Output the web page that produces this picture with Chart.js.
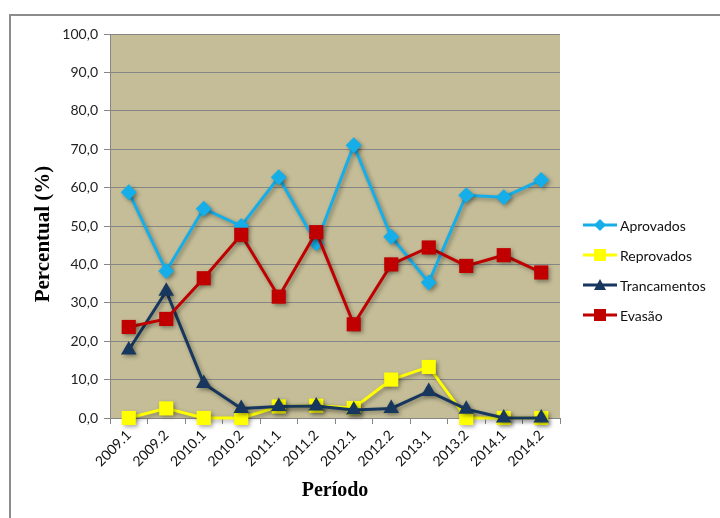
<!DOCTYPE html>
<html>
<head>
    <meta charset="utf-8">
    <title>Percentual por período</title>
    <script src="https://cdn.jsdelivr.net/npm/chart.js@4"></script>
    <style>
        body { margin: 0; background: #fff; }
        #wrap { position: relative; width: 720px; height: 518px; overflow: hidden; }
        #frame { position: absolute; left: 9px; top: 14px; width: 720px; height: 520px;
                 border-top: 2px solid #8c8c8c; border-left: 2px solid #8c8c8c; }
        #myChart { position: absolute; left: 0; top: 0; }
        #legend { position: absolute; left: 583px; top: 210px; font: 14px Lato, sans-serif; color: #111; }
        #legend div { height: 30px; display: flex; align-items: center; }
        #legend svg { margin-right: 3px; }
    </style>
</head>
<body>
<div id="wrap">
    <div id="frame"></div>
    <canvas id="myChart" width="720" height="518"></canvas>
    <div id="legend"></div>
</div>

<script>
    // periods (x axis)
    var periodos = ['2009.1', '2009.2', '2010.1', '2010.2', '2011.1', '2011.2',
                    '2012.1', '2012.2', '2013.1', '2013.2', '2014.1', '2014.2'];

    // values (%)
    var aprovados    = [58.8, 38.3, 54.5, 50.0, 62.7, 45.5, 71.0, 47.2, 35.3, 58.0, 57.5, 62.0];
    var reprovados   = [0.0, 2.5, 0.0, 0.0, 3.0, 3.2, 2.6, 10.0, 13.3, 0.0, 0.0, 0.0];
    var trancamentos = [17.7, 33.0, 9.0, 2.5, 3.0, 3.1, 2.1, 2.5, 6.9, 2.3, 0.0, 0.0];
    var evasao       = [23.7, 25.8, 36.4, 47.7, 31.6, 48.4, 24.4, 40.0, 44.4, 39.6, 42.4, 37.9];

    var series = [
        { label: 'Aprovados', data: aprovados, color: '#16aee8', shape: 'rectRot', radius: 8, order: 3 },
        { label: 'Reprovados', data: reprovados, color: '#ffff00', shape: 'rect', radius: 10, order: 2 },
        { label: 'Trancamentos', data: trancamentos, color: '#17375e', shape: 'triangle', radius: 9, order: 1 },
        { label: 'Evasão', data: evasao, color: '#c00000', shape: 'rect', radius: 10, order: 0 }
    ];

    // tan plot background
    var plotBackground = {
        id: 'plotBackground',
        beforeDraw: function (chart) {
            var a = chart.chartArea, ctx = chart.ctx;
            ctx.save();
            ctx.fillStyle = '#c4bd97';
            ctx.fillRect(a.left, a.top, a.right - a.left, a.bottom - a.top);
            ctx.restore();
        }
    };

    // soft shadow under lines and markers, like the spreadsheet effect
    var markerShadow = {
        id: 'markerShadow',
        beforeDatasetsDraw: function (chart) {
            var ctx = chart.ctx;
            ctx.save();
            ctx.shadowColor = 'rgba(0,0,0,0.35)';
            ctx.shadowBlur = 4;
            ctx.shadowOffsetX = 2;
            ctx.shadowOffsetY = 2;
        },
        afterDatasetsDraw: function (chart) {
            chart.ctx.restore();
        }
    };

    // axis titles
    var axisTitles = {
        id: 'axisTitles',
        afterDraw: function (chart) {
            var ctx = chart.ctx;
            ctx.save();
            ctx.fillStyle = '#000';
            ctx.textAlign = 'center';
            ctx.textBaseline = 'middle';
            ctx.font = 'bold 20px "Liberation Serif", serif';
            ctx.fillText('Período', 335, 491);
            ctx.translate(44, 234);
            ctx.rotate(-Math.PI / 2);
            ctx.font = 'bold 21px "Liberation Serif", serif';
            ctx.fillText('Percentual (%)', 0, 0);
            ctx.restore();
        }
    };

    var datasets = series.map(function (s) {
        return {
            label: s.label,
            data: s.data,
            borderColor: s.color,
            backgroundColor: s.color,
            borderWidth: 3,
            pointStyle: s.shape,
            pointRadius: s.radius,
            pointHoverRadius: s.radius,
            pointBorderWidth: 0,
            tension: 0,
            clip: false,
            order: s.order
        };
    });

    var ctx = document.getElementById('myChart');
    new Chart(ctx, {
        type: 'line',
        data: { labels: periodos, datasets: datasets },
        plugins: [plotBackground, markerShadow, axisTitles],
        options: {
            responsive: false,
            animation: false,
            layout: { padding: { left: 20, top: 34, right: 160, bottom: 8 } },
            plugins: { legend: { display: false }, tooltip: { enabled: false } },
            scales: {
                x: {
                    offset: true,
                    afterFit: function (scale) { scale.height = 92; },
                    grid: { offset: true, drawOnChartArea: false, color: '#868686', tickLength: 6 },
                    border: { color: '#868686' },
                    ticks: {
                        autoSkip: false, minRotation: 45, maxRotation: 45,
                        color: '#111', font: { family: 'Lato', size: 14 }
                    }
                },
                y: {
                    min: 0, max: 100,
                    afterFit: function (scale) { scale.width = 90; },
                    grid: { color: '#868686', tickLength: 6 },
                    border: { color: '#868686' },
                    ticks: {
                        stepSize: 10, padding: 6,
                        color: '#222', font: { family: 'Lato', size: 14 },
                        callback: function (v) { return v.toFixed(1).replace('.', ','); }
                    }
                }
            }
        }
    });

    // legend on the right, built from the same series list
    var legend = document.getElementById('legend');
    series.forEach(function (s) {
        var mark;
        if (s.shape === 'rectRot') {
            mark = '<polygon points="17,3 23,9 17,15 11,9" fill="' + s.color + '"/>';
        } else if (s.shape === 'triangle') {
            mark = '<polygon points="17,3 23,14 11,14" fill="' + s.color + '"/>';
        } else {
            mark = '<rect x="11" y="3" width="12" height="12" fill="' + s.color + '"/>';
        }
        var row = document.createElement('div');
        row.innerHTML = '<svg width="34" height="18"><line x1="0" y1="9" x2="34" y2="9" stroke="' +
            s.color + '" stroke-width="3"/>' + mark + '</svg><span>' + s.label + '</span>';
        legend.appendChild(row);
    });
</script>
</body>
</html>
